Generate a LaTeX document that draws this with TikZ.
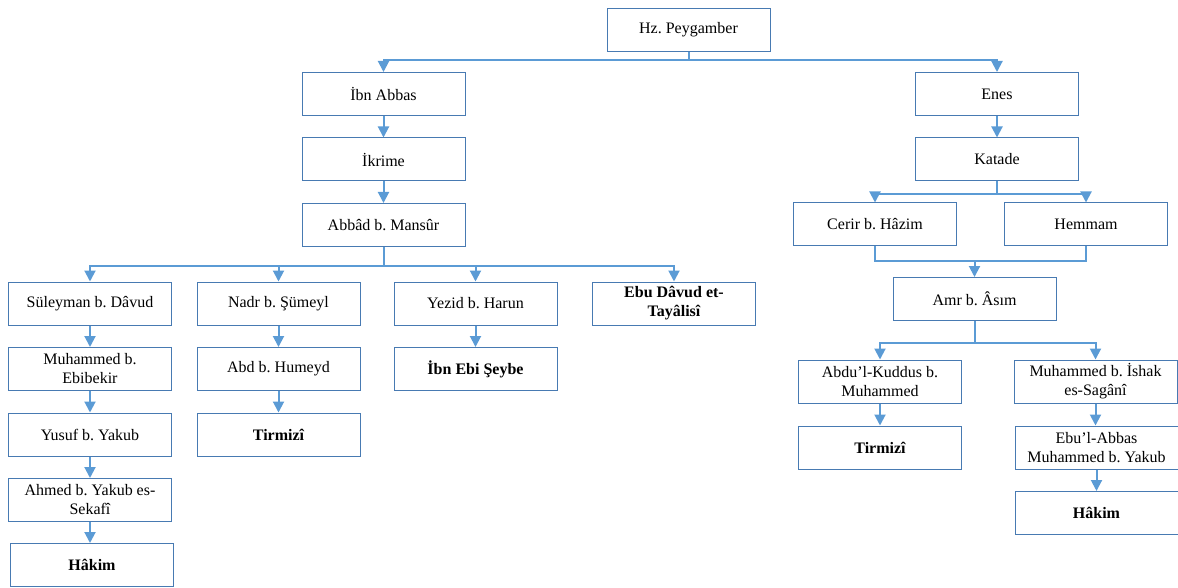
\documentclass[tikz,border=0pt]{standalone}
\usepackage{fontspec}
\setmainfont{Liberation Serif}
\usetikzlibrary{arrows.meta}
\definecolor{boxc}{RGB}{72,122,178}
\definecolor{linec}{RGB}{91,155,213}
\frenchspacing
\begin{document}
\begin{tikzpicture}[x=1pt,y=-1pt,
  box/.style={draw=boxc, line width=1pt, fill=white, minimum width=163pt, minimum height=43pt,
    inner sep=0pt, align=center, font=\fontsize{16}{19}\selectfont\frenchspacing},
  bbox/.style={box, font=\fontsize{16}{19}\selectfont\bfseries\frenchspacing},
  conn/.style={draw=linec, line width=2pt},
  arr/.style={conn, -{Triangle[width=11pt,length=11pt]}}]
\useasboundingbox (0,0) rectangle (1178,588);
% left tree
\node[box] (hz) at (688.5,30) {Hz. Peygamber};
\node[box] (ibn) at (383.5,94) {İbn Abbas};
\node[box] (ikr) at (383.5,159.5) {İkrime};
\node[box] (abb) at (383.5,225) {Abbâd b. Mansûr};
\node[box] (sul) at (90,303.5) {Süleyman b. Dâvud};
\node[box] (nadr) at (278.5,303.5) {Nadr b. Şümeyl};
\node[box] (yez) at (475.5,303.5) {Yezid b. Harun};
\node[bbox] (ebud) at (674,303.5) {Ebu Dâvud et-\\Tayâlisî};
\node[box] (mebi) at (90,369) {Muhammed b.\\Ebibekir};
\node[box] (yus) at (90,434.5) {Yusuf b. Yakub};
\node[box] (ahm) at (90,500) {Ahmed b. Yakub es-\\Sekafî};
\node[bbox] (hak1) at (92,565) {Hâkim};
\node[box] (abd) at (278.5,369) {Abd b. Humeyd};
\node[bbox] (tir1) at (278.5,434.5) {Tirmizî};
\node[bbox] (ieb) at (475.5,369) {İbn Ebi Şeybe};
% right tree
\node[box] (enes) at (997,94) {Enes};
\node[box] (kat) at (997,159.5) {Katade};
\node[box] (cer) at (875,224.5) {Cerir b. Hâzim};
\node[box] (hem) at (1086,224.5) {Hemmam};
\node[box] (amr) at (974.5,299) {Amr b. Âsım};
\node[box] (kud) at (880,381.5) {Abdu’l-Kuddus b.\\Muhammed};
\node[bbox] (tir2) at (880,447.5) {Tirmizî};
\node[box] (mis) at (1095.5,381.5) {Muhammed b. İshak\\es-Sagânî};
\node[box] (eba) at (1096.5,447.5) {Ebu’l-Abbas\\Muhammed b. Yakub};
\node[bbox] (hak2) at (1096.5,513) {Hâkim};
% junctions
\coordinate (j1) at (688.5,60);
\coordinate (j2) at (383.5,266);
\coordinate (j3) at (997,194);
\coordinate (j4) at (974.5,261);
\coordinate (j5) at (974.5,343);
% connectors
\draw[conn] (hz.south) -- (j1);
\draw[arr] (j1) -| (ibn.north);
\draw[arr] (j1) -| (enes.north);
\draw[arr] (ibn) -- (ikr);
\draw[arr] (ikr) -- (abb);
\draw[conn] (abb.south) -- (j2);
\draw[arr] (j2) -| (sul.north);
\draw[arr] (j2) -| (nadr.north);
\draw[arr] (j2) -| (yez.north);
\draw[arr] (j2) -| (ebud.north);
\draw[arr] (sul) -- (mebi);
\draw[arr] (mebi) -- (yus);
\draw[arr] (yus.south) -- (yus.south |- ahm.north);
\draw[arr] (ahm.south) -- (ahm.south |- hak1.north);
\draw[arr] (nadr) -- (abd);
\draw[arr] (abd) -- (tir1);
\draw[arr] (yez) -- (ieb);
\draw[arr] (enes) -- (kat);
\draw[conn] (kat.south) -- (j3);
\draw[arr] (j3) -| (cer.north);
\draw[arr] (j3) -| (hem.north);
\draw[conn] (cer.south) |- (j4) -| (hem.south);
\draw[arr] (j4) -- (amr.north);
\draw[conn] (amr.south) -- (j5);
\draw[arr] (j5) -| (kud.north);
\draw[arr] (j5) -| (mis.north);
\draw[arr] (kud) -- (tir2);
\draw[arr] (mis.south) -- (mis.south |- eba.north);
\draw[arr] (eba.south) -- (eba.south |- hak2.north);
\end{tikzpicture}
\end{document}
